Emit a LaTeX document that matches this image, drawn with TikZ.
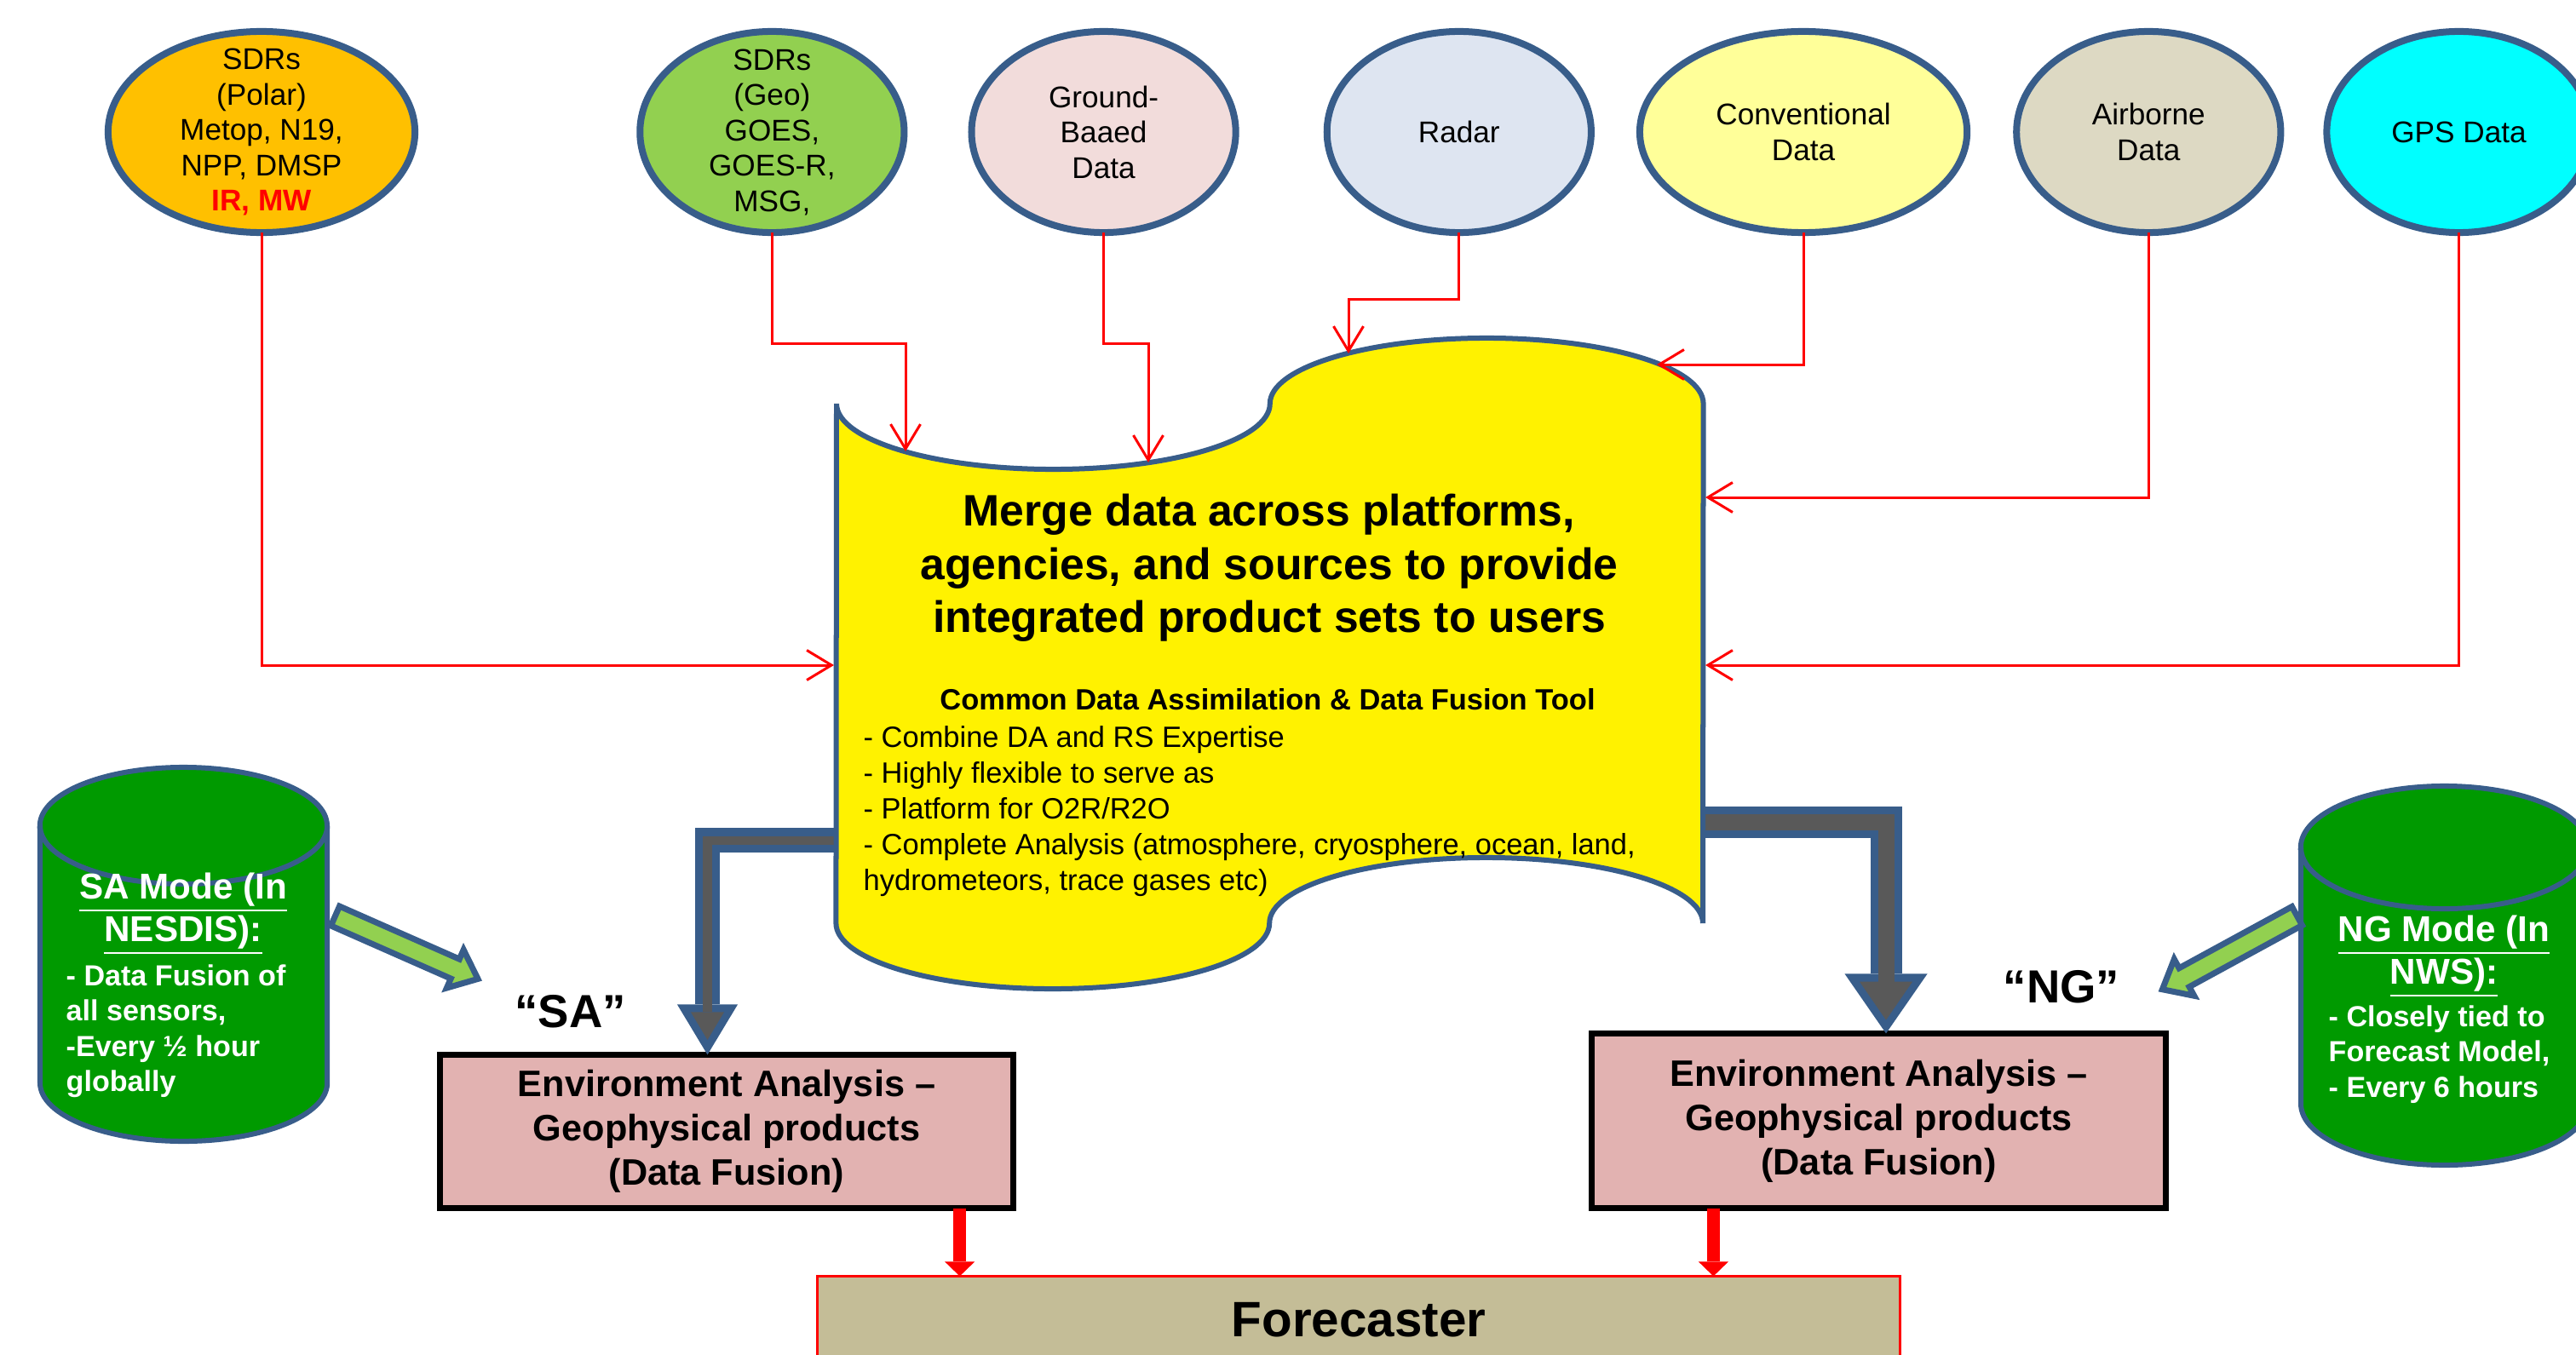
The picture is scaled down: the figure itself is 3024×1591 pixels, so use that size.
\documentclass[tikz,border=0pt]{standalone}
\usepackage{fontspec}
\setmainfont{Liberation Sans}
\usetikzlibrary{positioning,shapes.geometric,shapes.arrows,arrows.meta}
\definecolor{edgeblue}{HTML}{385D8A}
\definecolor{polar}{HTML}{FFC000}
\definecolor{geo}{HTML}{92D050}
\definecolor{ground}{HTML}{F2DCDB}
\definecolor{radar}{HTML}{DEE5F1}
\definecolor{conv}{HTML}{FFFF99}
\definecolor{air}{HTML}{DDD9C3}
\definecolor{gps}{HTML}{00FFFF}
\definecolor{modegreen}{HTML}{009A00}
\definecolor{pipegrey}{HTML}{595959}
\definecolor{anabox}{HTML}{E2B2B1}
\definecolor{fcbox}{HTML}{C4BD97}

\begin{document}
\begin{tikzpicture}[x=0.01cm,y=0.01cm,
  src/.style={ellipse,draw=edgeblue,line width=0.08cm,minimum height=2.36cm,minimum width=3.10cm,inner sep=0pt,outer sep=0pt},
  srctext/.style={align=center,inner sep=0pt,font=\fontsize{10}{11.8}\selectfont},
  feed/.style={draw=red,line width=0.03cm,-{Straight Barb[length=0.29cm,width=0.35cm]}},
  cyl/.style={draw=edgeblue,line width=0.06cm},
  modehead/.style={align=center,inner sep=0pt,text=white,font=\fontsize{12}{14.2}\selectfont\bfseries},
  modelist/.style={align=left,inner sep=0pt,anchor=north west,text=white,font=\fontsize{9.7}{11.8}\selectfont\bfseries},
  modearrow/.style={single arrow,draw=edgeblue,fill=geo,line width=0.07cm,inner xsep=0pt,inner ysep=0.09cm,minimum width=0.43cm,single arrow head extend=0.12cm,single arrow tip angle=80,outer sep=0pt,anchor=tail},
  ana/.style={draw=black,line width=0.07cm,fill=anabox,minimum width=6.73cm,inner sep=0pt,outer sep=0pt,align=center,font=\fontsize{12.3}{14.8}\selectfont\bfseries},
  tofc/.style={draw=red,line width=0.15cm,-{Triangle[length=0.17cm,width=0.35cm,line width=0pt]}},
  quote/.style={inner sep=0pt,font=\fontsize{15.5}{18}\selectfont\bfseries}]
\useasboundingbox (0,0) rectangle (3024,-1591);
\clip (0,0) rectangle (3024,-1591);

% data sources
\node[src,fill=polar,minimum width=3.60cm] (s1) at (307,-155) {};
\node[src,fill=geo,right=2.64cm of s1] (s2) {};
\node[src,fill=ground,right=0.79cm of s2] (s3) {};
\node[src,fill=radar,right=1.07cm of s3] (s4) {};
\node[src,fill=conv,minimum width=3.84cm,right=0.57cm of s4] (s5) {};
\node[src,fill=air,right=0.58cm of s5] (s6) {};
\node[src,fill=gps,right=0.54cm of s6] (s7) {};
\node[srctext] (t1) at (s1) {SDRs\\(Polar)\\Metop, N19,\\NPP, DMSP\\\textcolor{red}{\bfseries IR, MW}};
\node[srctext] (t2) at (s2) {SDRs\\(Geo)\\GOES,\\GOES-R,\\MSG,};
\node[srctext] (t3) at (s3) {Ground-\\Baaed\\Data};
\node[srctext] (t4) at (s4) {Radar};
\node[srctext] (t5) at (s5) {Conventional\\Data};
\node[srctext] (t6) at (s6) {Airborne\\Data};
\node[srctext] (t7) at (s7) {GPS Data};

% the two modes
\draw[cyl,fill=modegreen] (47,-969.5) -- (47,-1271.5) arc[start angle=180,end angle=360,x radius=1.685cm,y radius=0.685cm] -- (384,-969.5) arc[start angle=0,end angle=180,x radius=1.685cm,y radius=0.685cm] -- cycle;
\draw[cyl] (47,-969.5) arc[start angle=180,end angle=360,x radius=1.685cm,y radius=0.685cm];
\draw[cyl,fill=modegreen] (2701,-995) -- (2701,-1296) arc[start angle=180,end angle=360,x radius=1.685cm,y radius=0.72cm] -- (3038,-995) arc[start angle=0,end angle=180,x radius=1.685cm,y radius=0.72cm] -- cycle;
\draw[cyl] (2701,-995) arc[start angle=180,end angle=360,x radius=1.685cm,y radius=0.72cm];
\node[modehead] (saHead) at (215,-1073) {\underline{SA Mode (In}\\\underline{NESDIS):}};
\node[modelist] (saList) at (77,-1132) {- Data Fusion of\\all sensors,\\-Every ½ hour\\globally};
\node[modehead] (ngHead) at (2869,-1123) {\underline{NG Mode (In}\\\underline{NWS):}};
\node[modelist] (ngList) at (2733,-1180) {- Closely tied to\\Forecast Model,\\- Every 6 hours};
\node[modearrow,minimum height=1.83cm,rotate=-23.8] (saPtr) at (393.5,-1075.5) {};
\node[modearrow,minimum height=1.80cm,rotate=-151.4] (ngPtr) at (2696.5,-1075.5) {};
\node[quote] (saQ) at (669.5,-1188) {“SA”};
\node[quote] (ngQ) at (2420,-1159) {“NG”};

% analysis boxes
\node[ana,minimum height=1.80cm] (saBox) at (853,-1328.5) {Environment Analysis –\\Geophysical products\\(Data Fusion)};
\node[ana,minimum height=2.05cm] (ngBox) at (2205.5,-1316) {Environment Analysis –\\Geophysical products\\(Data Fusion)};
\node[draw=red,line width=0.03cm,fill=fcbox,minimum width=12.71cm,minimum height=1.03cm,outer sep=0pt,font=\fontsize{16.6}{20}\selectfont\bfseries] (fc) at (1595,-1550) {Forecaster};

\coordinate (saOut) at (1000,-986.5);
\coordinate (ngOut) at (1990,-965.5);
\draw[draw=edgeblue,line width=0.29cm,-{Triangle[length=0.59cm,width=0.71cm,line width=0pt]}] (saOut) -| ([xshift=-0.225cm]saBox.north);
\draw[draw=pipegrey,line width=0.10cm,shorten >=0.175cm,-{Triangle[length=0.325cm,width=0.39cm,line width=0pt]}] (saOut) -| ([xshift=-0.225cm]saBox.north);
\draw[draw=edgeblue,line width=0.37cm,-{Triangle[length=0.70cm,width=0.97cm,line width=0pt]}] (ngOut) -| ([xshift=0.085cm]ngBox.north);
\draw[draw=pipegrey,line width=0.19cm,shorten >=0.158cm,-{Triangle[length=0.45cm,width=0.62cm,line width=0pt]}] (ngOut) -| ([xshift=0.085cm]ngBox.north);

% merge scroll
\draw[draw=edgeblue,line width=0.06cm,fill=yellow] (982,-474)
  arc[start angle=180,end angle=360,x radius=2.5425cm,y radius=0.77cm]
  arc[start angle=180,end angle=0,x radius=2.5425cm,y radius=0.77cm]
  -- (1999,-1084)
  arc[start angle=0,end angle=180,x radius=2.5425cm,y radius=0.77cm]
  arc[start angle=0,end angle=-180,x radius=2.5425cm,y radius=0.77cm] -- cycle;
\node[align=center,inner sep=0pt,font=\fontsize{14.7}{17.8}\selectfont\bfseries] (merge) at (1490,-667) {Merge data across platforms,\\agencies, and sources to provide\\integrated product sets to users};
\node[inner sep=0pt,font=\fontsize{9.8}{11.8}\selectfont\bfseries] (cdaHead) at (1488,-821) {Common Data Assimilation \& Data Fusion Tool};
\node[align=left,inner sep=0pt,anchor=north west,font=\fontsize{9.8}{11.9}\selectfont] (cdaList) at (1013,-852) {- Combine DA and RS Expertise\\- Highly flexible to serve as\\- Platform for O2R/R2O\\- Complete Analysis (atmosphere, cryosphere, ocean, land,\\hydrometeors, trace gases etc)};

\coordinate (inL) at (979,-781);
\coordinate (in2) at (1063,-530);
\coordinate (in3) at (1348,-543);
\coordinate (in4) at (1583,-415);
\coordinate (in5) at (1945,-428);
\coordinate (inR1) at (2002,-584);
\coordinate (inR2) at (2002,-781);
\draw[feed] (s1.south) |- (inL);
\draw[feed] (s2.south) -- ++(0,-130) -| (in2);
\draw[feed] (s3.south) -- ++(0,-130) -| (in3);
\draw[feed] (s4.south) -- ++(0,-78) -| (in4);
\draw[feed] (s5.south) |- (in5);
\draw[feed] (s6.south) |- (inR1);
\draw[feed] (s7.south) |- (inR2);

\draw[tofc] ([xshift=2.735cm]saBox.south) coordinate (r1) -- (r1 |- fc.north);
\draw[tofc] ([xshift=-1.94cm]ngBox.south) coordinate (r2) -- (r2 |- fc.north);
\end{tikzpicture}
\end{document}
